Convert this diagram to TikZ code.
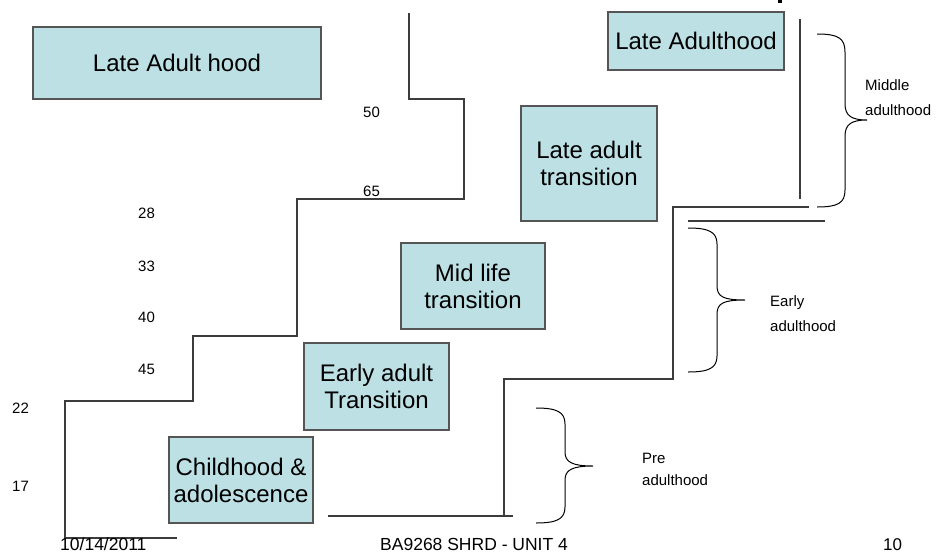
\documentclass[tikz,border=0pt]{standalone}
\usepackage{fontspec}
\setmainfont{Liberation Sans}
\definecolor{boxfill}{RGB}{188,224,228}
\definecolor{boxline}{RGB}{85,85,85}
\definecolor{stair}{RGB}{60,60,60}
\tikzset{
  stagebox/.style={draw=boxline, line width=1.2pt, fill=boxfill, inner sep=0pt,
    align=center, font=\fontsize{24}{27}\selectfont},
  agelabel/.style={anchor=base west, inner sep=0pt, font=\fontsize{15}{18}\selectfont},
  phaselabel/.style={anchor=base west, inner sep=0pt, font=\fontsize{15}{18}\selectfont},
  footer/.style={anchor=base west, inner sep=0pt, font=\fontsize{17.5}{20}\selectfont},
  stairline/.style={draw=stair, line width=1.1pt},
  bracepath/.style={draw=black, line width=1pt}
}
\begin{document}
\begin{tikzpicture}[x=1pt,y=-1pt]
\useasboundingbox (0,0) rectangle (937,552);

% stage boxes
\node[stagebox, minimum width=288, minimum height=72] (lateadulthood2) at (177,63) {Late Adult hood};
\node[stagebox, minimum width=176, minimum height=58] (lateadulthood) at (696,41) {Late Adulthood};
\node[stagebox, minimum width=136, minimum height=115] (latetrans) at (589,163.5) {Late adult\\transition};
\node[stagebox, minimum width=144, minimum height=86] (midtrans) at (473,286) {Mid life\\transition};
\node[stagebox, minimum width=145, minimum height=87] (earlytrans) at (376.5,386.5) {Early adult\\Transition};
\node[stagebox, minimum width=144, minimum height=86] (childhood) at (241,480) {Childhood \&\\adolescence};

% small mark at the top
\fill[black] (778,0) rectangle (782,3);

% left staircase
\draw[stairline] (409,13) -- (409,99) -- (464,99) -- (464,199) -- (297,199) -- (297,336)
  -- (193,336) -- (193,401) -- (65,401) -- (65,538) -- (177,538);

% right staircase
\draw[stairline] (328,516) -- (513,516);
\draw[stairline] (504,516) -- (504,379) -- (673,379) -- (673,207) -- (809,207);
\draw[stairline] (688,221) -- (825,221);
\draw[stairline] (800,19) -- (800,199);

% braces
\draw[bracepath] (817,34) .. controls (838,34) and (845,38) .. (845,52) -- (845,104)
  .. controls (845,116) and (852,120) .. (867,120)
  .. controls (852,120) and (845,124) .. (845,136) -- (845,190)
  .. controls (845,203) and (838,207) .. (817,207);
\draw[bracepath] (688,228) .. controls (709,228) and (717,232) .. (717,244) -- (717,286)
  .. controls (717,297) and (724,300) .. (745,300)
  .. controls (724,300) and (717,303) .. (717,314) -- (717,356)
  .. controls (717,368) and (709,372) .. (688,372);
\draw[bracepath] (536,408) .. controls (557,408) and (565,412) .. (565,424) -- (565,452)
  .. controls (565,462) and (572,466) .. (593,466)
  .. controls (572,466) and (565,470) .. (565,480) -- (565,507)
  .. controls (565,519) and (557,523) .. (536,523);

% phase labels
\node[phaselabel] (midA) at (865,90) {Middle};
\node[phaselabel] (midB) at (865,115) {adulthood};
\node[phaselabel] (earlyA) at (770,306) {Early};
\node[phaselabel] (earlyB) at (770,331) {adulthood};
\node[phaselabel] (preA) at (642,463) {Pre};
\node[phaselabel] (preB) at (642,485) {adulthood};

% age labels
\node[agelabel] (a50) at (363,117) {50};
\node[agelabel] (a65) at (363,196) {65};
\node[agelabel] (a28) at (138,218) {28};
\node[agelabel] (a33) at (138,271) {33};
\node[agelabel] (a40) at (138,322) {40};
\node[agelabel] (a45) at (138,374) {45};
\node[agelabel] (a22) at (12,413) {22};
\node[agelabel] (a17) at (12,491) {17};

% footer
\node[footer] (date) at (60,550) {10/14/2011};
\node[footer] (course) at (380,550) {BA9268 SHRD - UNIT 4};
\node[footer, font=\fontsize{17}{20}\selectfont] (page) at (883,550) {10};
\end{tikzpicture}
\end{document}
